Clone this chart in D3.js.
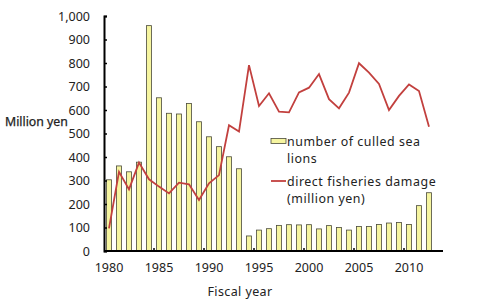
<!DOCTYPE html>
<html>
<head>
<meta charset="utf-8">
<script src="https://cdn.jsdelivr.net/npm/d3@7"></script>
<style>
  html, body { margin: 0; padding: 0; background: #fff; }
  text { font-family: "Noto Sans", "DejaVu Sans", sans-serif; fill: #222; }
</style>
</head>
<body>
<svg id="chart" width="491" height="304"></svg>
<script>
const years = [1980,1981,1982,1983,1984,1985,1986,1987,1988,1989,1990,1991,1992,1993,1994,1995,1996,1997,1998,1999,2000,2001,2002,2003,2004,2005,2006,2007,2008,2009,2010,2011,2012];
const culledSeaLions = [303,362,337,378,959,652,586,583,628,550,486,444,401,350,64,89,95,109,112,111,112,94,108,100,89,104,104,113,119,121,113,193,248];
const fisheriesDamage = [96,337,262,376,305,274,245,291,284,217,288,323,535,508,791,617,671,593,590,675,695,753,646,607,674,799,759,711,600,660,709,681,529];
const yTicks = [0,100,200,300,400,500,600,700,800,900,1000];
const xTickLabels = [1980,1985,1990,1995,2000,2005,2010];

(function () {
const svg = d3.select("#chart");
const mLeft = 104, mRight = 434, axisEnd = 443, mTop = 16, mBottom = 251;

const x = d3.scaleBand().domain(years).range([mLeft, mRight]).paddingInner(0.5).paddingOuter(0.25);
const y = d3.scaleLinear().domain([0, 1000]).range([mBottom, mTop]);

// bars
svg.append("g").selectAll("rect").data(years).join("rect")
  .attr("x", (d) => x(d))
  .attr("y", (d, i) => y(culledSeaLions[i]))
  .attr("width", x.bandwidth())
  .attr("height", (d, i) => y(0) - y(culledSeaLions[i]))
  .attr("fill", "#f6f5a0")
  .attr("stroke", "#4a4a3a")
  .attr("stroke-width", 0.8);

// line
const cx = (d) => x(d) + x.bandwidth() / 2;
svg.append("path")
  .datum(years)
  .attr("fill", "none")
  .attr("stroke", "#c2403e")
  .attr("stroke-width", 1.8)
  .attr("stroke-linejoin", "miter")
  .attr("d", d3.line().x(cx).y((d, i) => y(fisheriesDamage[i])));

// y axis
const yAxis = d3.axisLeft(y).tickValues(yTicks).tickSize(-3).tickPadding(14)
  .tickFormat(d3.format(","));
const gy = svg.append("g").attr("transform", `translate(${mLeft},0)`).call(yAxis);
gy.select(".domain").attr("stroke", "#000").attr("stroke-width", 2);
gy.selectAll(".tick line").attr("stroke", "#000").attr("stroke-width", 1.5);
gy.selectAll(".tick text").attr("font-size", 12.5).attr("fill", "#222")
  .style("font-family", "'Noto Sans', sans-serif");

// x axis line
svg.append("line").attr("x1", mLeft).attr("x2", axisEnd).attr("y1", mBottom).attr("y2", mBottom)
  .attr("stroke", "#000").attr("stroke-width", 2);
// x boundary ticks every 5 years
const step = x.step();
svg.append("g").selectAll("line").data(xTickLabels.slice(1)).join("line")
  .attr("x1", (d) => x(d) - (step - x.bandwidth()) / 2)
  .attr("x2", (d) => x(d) - (step - x.bandwidth()) / 2)
  .attr("y1", mBottom).attr("y2", mBottom - 3)
  .attr("stroke", "#000").attr("stroke-width", 1.5);
// x labels
svg.append("g").selectAll("text").data(xTickLabels).join("text")
  .attr("x", cx)
  .attr("y", mBottom + 21)
  .attr("text-anchor", "middle")
  .attr("font-size", 12.5)
  .text((d) => d);

// axis titles
svg.append("text").attr("x", 5).attr("y", 126).attr("font-size", 12.3)
  .attr("stroke", "#222").attr("stroke-width", 0.25)
  .text("Million yen");
svg.append("text").attr("x", 240).attr("y", 296).attr("text-anchor", "middle").attr("font-size", 12.5)
  .attr("letter-spacing", 0.4)
  .text("Fiscal year");

// legend
const lg = svg.append("g").attr("font-size", 12.4).attr("letter-spacing", 0.55);
lg.append("rect").attr("x", 271).attr("y", 138.5).attr("width", 15).attr("height", 5)
  .attr("fill", "#f6f5a0").attr("stroke", "#4a4a3a").attr("stroke-width", 0.8);
lg.append("text").attr("x", 287).attr("y", 146).text("number of culled sea");
lg.append("text").attr("x", 287).attr("y", 163).text("lions");
lg.append("line").attr("x1", 271).attr("x2", 286).attr("y1", 181).attr("y2", 181)
  .attr("stroke", "#c2403e").attr("stroke-width", 1.8);
lg.append("text").attr("x", 287).attr("y", 186).text("direct fisheries damage");
lg.append("text").attr("x", 287).attr("y", 203).text("(million yen)");
})();
</script>
</body>
</html>
